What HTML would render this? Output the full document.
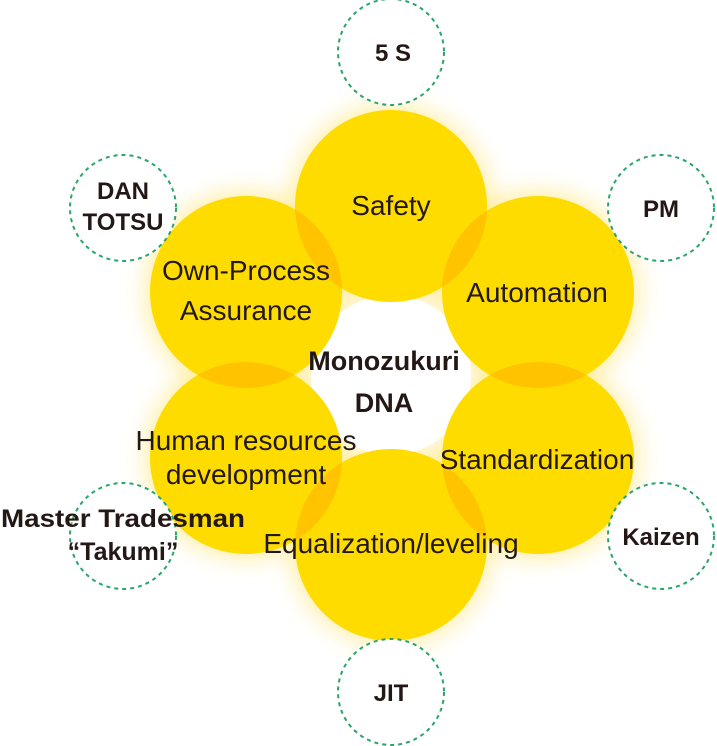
<!DOCTYPE html>
<html><head><meta charset="utf-8"><style>
html,body{margin:0;padding:0;background:#fff;width:717px;height:746px;overflow:hidden}
svg{display:block}
text{font-family:"Liberation Sans",sans-serif;fill:#231815}
</style></head><body>
<svg width="717" height="746" viewBox="0 0 717 746">
<defs>
<filter id="b" x="-50%" y="-50%" width="200%" height="200%"><feGaussianBlur stdDeviation="12"/></filter>
<clipPath id="cA"><circle cx="391" cy="206" r="96"/></clipPath>
<clipPath id="cC"><circle cx="538" cy="458" r="96"/></clipPath>
<clipPath id="cE"><circle cx="246" cy="458" r="96"/></clipPath>
</defs>
<g filter="url(#b)" fill="#FFE98A" opacity="0.8">
<circle cx="391" cy="206" r="100"/><circle cx="538" cy="292" r="100"/><circle cx="538" cy="458" r="100"/>
<circle cx="391" cy="545" r="100"/><circle cx="246" cy="458" r="100"/><circle cx="246" cy="292" r="100"/>
</g>
<circle cx="391" cy="375" r="80" fill="#FFFFFF"/>
<g fill="#FFDC00">
<circle cx="391" cy="206" r="96"/><circle cx="538" cy="292" r="96"/><circle cx="538" cy="458" r="96"/>
<circle cx="391" cy="545" r="96"/><circle cx="246" cy="458" r="96"/><circle cx="246" cy="292" r="96"/>
</g>
<g fill="#FFC300">
<g clip-path="url(#cA)"><circle cx="538" cy="292" r="96"/><circle cx="246" cy="292" r="96"/></g>
<g clip-path="url(#cC)"><circle cx="538" cy="292" r="96"/><circle cx="391" cy="545" r="96"/></g>
<g clip-path="url(#cE)"><circle cx="391" cy="545" r="96"/><circle cx="246" cy="292" r="96"/></g>
</g>
<g fill="#fff" stroke="#2BA46B" stroke-width="2" stroke-dasharray="4 4">
<circle cx="391" cy="52" r="53"/><circle cx="661" cy="208" r="53"/><circle cx="661" cy="536" r="53"/>
<circle cx="391" cy="692" r="53"/><circle cx="123" cy="536" r="53"/><circle cx="123" cy="208" r="53"/>
</g>
<g font-size="28" text-anchor="middle">
<text x="391" y="215">Safety</text>
<text x="537" y="302">Automation</text>
<text x="537" y="469">Standardization</text>
<text x="391" y="553">Equalization/leveling</text>
<text x="246" y="450">Human resources</text>
<text x="246" y="484">development</text>
<text x="246" y="280">Own-Process</text>
<text x="246" y="320">Assurance</text>
</g>
<g font-size="27" text-anchor="middle" font-weight="bold">
<text x="384" y="370">Monozukuri</text>
<text x="384" y="412">DNA</text>
</g>
<g font-size="24" text-anchor="middle" font-weight="bold">
<text x="393" y="61">5 S</text>
<text x="661" y="217">PM</text>
<text x="661" y="545">Kaizen</text>
<text x="391" y="701">JIT</text>
<text x="123" y="199">DAN</text>
<text x="123" y="230">TOTSU</text>
</g>
<g font-size="25" text-anchor="middle" font-weight="bold">
<text x="123" y="527" textLength="244" lengthAdjust="spacingAndGlyphs">Master Tradesman</text>
<text x="123" y="560">“Takumi”</text>
</g>
</svg>
</body></html>
